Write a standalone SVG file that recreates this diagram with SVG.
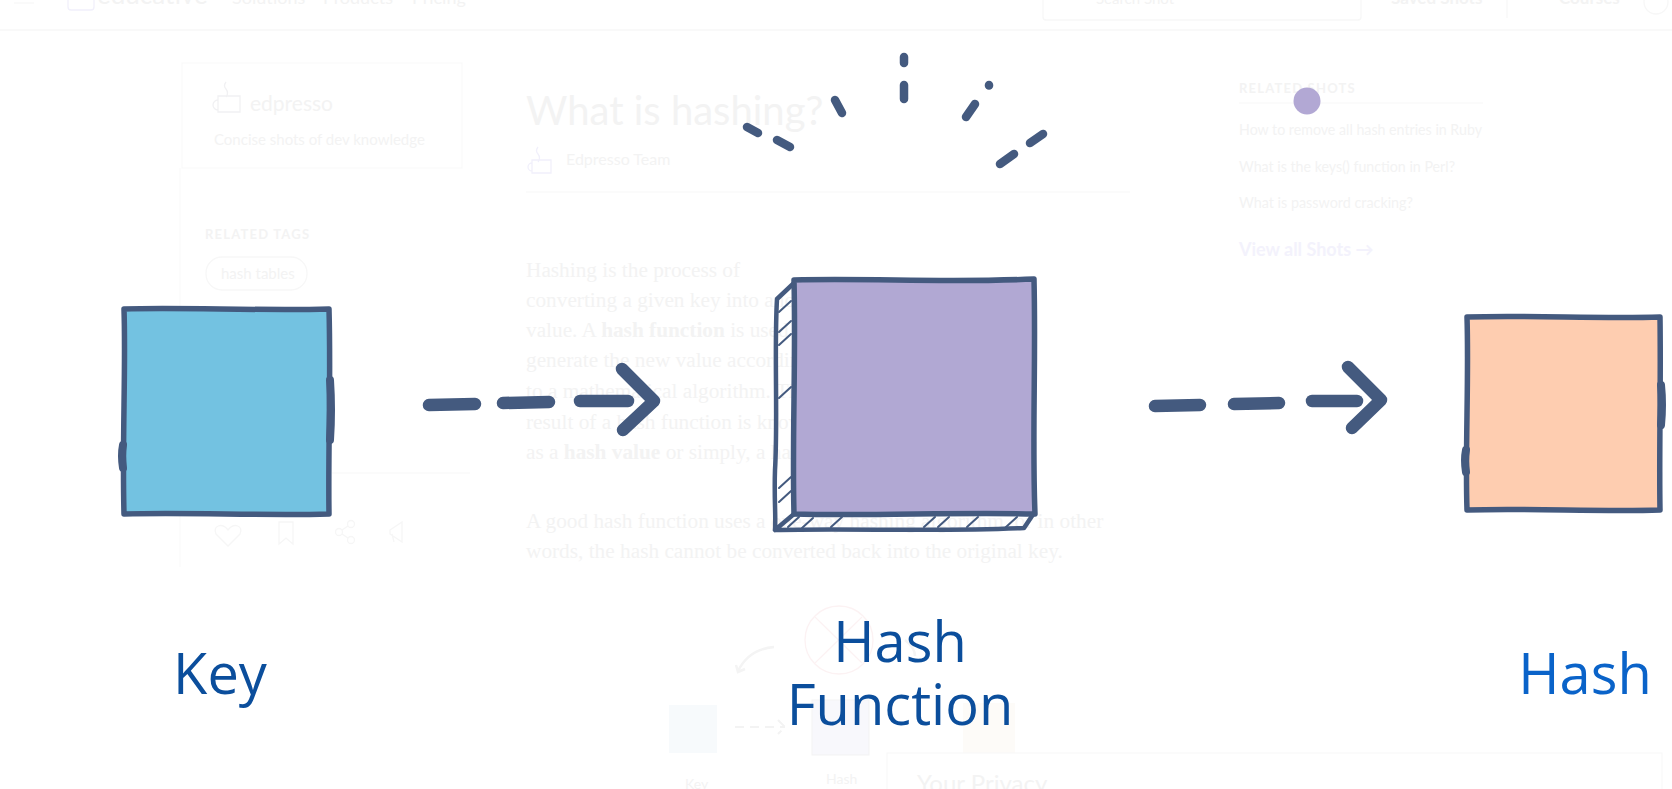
<svg xmlns="http://www.w3.org/2000/svg" width="1672" height="789" viewBox="0 0 1672 789">
<defs>
<style>
.bgt{font-family:"Lato","Open Sans",sans-serif;fill:#f3f3f3}
.bgs{font-family:"Liberation Serif",serif;fill:#f3f3f3;font-size:21.3px}
.bgl{fill:none;stroke:#f7f7f7;stroke-width:1.3}
.edge{stroke:#445a7f;stroke-width:5.5;stroke-linejoin:round;stroke-linecap:round}
.open{fill:none}
.bump{fill:none;stroke:#445a7f;stroke-width:8;stroke-linecap:round}
.con{fill:none;stroke:#445a7f;stroke-width:12.5;stroke-linecap:round;stroke-linejoin:round}
.ray{fill:none;stroke:#445a7f;stroke-width:8.5;stroke-linecap:round}
.hatch{fill:none;stroke:#445a7f;stroke-width:2;stroke-linecap:round}
.lbl{font-family:"Open Sans","Liberation Sans",sans-serif;font-size:56px;text-anchor:middle}
</style>
</defs>
<rect x="0" y="0" width="1672" height="789" fill="#ffffff"/>

<!-- faded web page in the background -->
<g id="background">
  <line class="bgl" x1="0" y1="30" x2="1672" y2="30"/>
  <line class="bgl" x1="14" y1="3" x2="34" y2="3"/>
  <rect class="bgl" x="68" y="-12" width="26" height="22" rx="3" style="stroke:#f1f0fb"/>
  <text class="bgt" x="97" y="4" font-size="26">educative</text>
  <text class="bgt" x="232" y="4" font-size="18">Solutions</text>
  <text class="bgt" x="323" y="4" font-size="18">Products</text>
  <text class="bgt" x="412" y="4" font-size="18">Pricing</text>
  <rect class="bgl" x="1043" y="-10" width="318" height="30" rx="3"/>
  <text class="bgt" x="1096" y="4" font-size="15">Search Shot</text>
  <text class="bgt" x="1391" y="4" font-size="17" font-weight="bold">Saved Shots</text>
  <line class="bgl" x1="1507" y1="0" x2="1507" y2="18"/>
  <text class="bgt" x="1559" y="4" font-size="17" font-weight="bold">Courses</text>
  <circle class="bgl" cx="1656" cy="2" r="12"/>

  <rect class="bgl" x="182" y="63" width="280" height="105" style="stroke:#fafafa"/>
  <line class="bgl" x1="180" y1="168" x2="180" y2="567" style="stroke:#fafafa"/>
  <line class="bgl" x1="332" y1="473" x2="470" y2="473" style="stroke:#fafafa"/>
  <path class="bgl" d="M218,96 h22 v16 h-22 z M218,100 a5,5 0 0 0 0,10 M226,82 q-3,4 0,7 q3,4 0,8" style="stroke:#f1f1f3"/>
  <text class="bgt" x="250" y="111" font-size="21">edpresso</text>
  <text class="bgt" x="214" y="145" font-size="15">Concise shots of dev knowledge</text>
  <text class="bgt" x="205" y="239" font-size="13" font-weight="bold" letter-spacing="1.2">RELATED TAGS</text>
  <rect class="bgl" x="206" y="257" width="101" height="33" rx="16"/>
  <text class="bgt" x="221" y="279" font-size="15">hash tables</text>

  <text class="bgt" x="526" y="125" font-size="40">What is hashing?</text>
  <path class="bgl" d="M532,160 h19 v13 h-19 z M532,163 a4,4 0 0 0 0,8 M538,147 q-3,4 0,7 q3,4 0,8" style="stroke:#f1f0fb"/>
  <text class="bgt" x="566" y="165" font-size="16">Edpresso Team</text>
  <line class="bgl" x1="526" y1="192" x2="1130" y2="192" style="stroke:#fafafa"/>

  <text class="bgs" x="526" y="277">Hashing is the process of</text>
  <text class="bgs" x="526" y="307">converting a given key into another</text>
  <text class="bgs" x="526" y="337">value. A <tspan font-weight="bold">hash function</tspan> is used to</text>
  <text class="bgs" x="526" y="367">generate the new value according</text>
  <text class="bgs" x="526" y="398">to a mathematical algorithm. The</text>
  <text class="bgs" x="526" y="429">result of a hash function is known</text>
  <text class="bgs" x="526" y="459">as a <tspan font-weight="bold">hash value</tspan> or simply, a hash.</text>
  <text class="bgs" x="526" y="528">A good hash function uses a one-way hashing algorithm, or in other</text>
  <text class="bgs" x="526" y="558">words, the hash cannot be converted back into the original key.</text>

  <text class="bgt" x="1239" y="93" font-size="13" font-weight="bold" letter-spacing="1.2">RELATED SHOTS</text>
  <line class="bgl" x1="1239" y1="103" x2="1483" y2="103" style="stroke:#fafafa"/>
  <text class="bgt" x="1239" y="135" font-size="15" textLength="243" lengthAdjust="spacingAndGlyphs">How to remove all hash entries in Ruby</text>
  <text class="bgt" x="1239" y="172" font-size="15" textLength="216" lengthAdjust="spacingAndGlyphs">What is the keys() function in Perl?</text>
  <text class="bgt" x="1239" y="208" font-size="15" textLength="174" lengthAdjust="spacingAndGlyphs">What is password cracking?</text>
  <text x="1239" y="256" font-family="Lato,'Open Sans',sans-serif" font-size="18" font-weight="bold" fill="#f3f2fc">View all Shots →</text>

  <g fill="none" stroke="#f6f6f6" stroke-width="1.3">
    <path d="M228,530 c-6,-8 -16,-4 -12,4 l12,12 l12,-12 c4,-8 -6,-12 -12,-4 z"/>
    <path d="M279,522 v22 l7,-6 l7,6 v-22 z"/>
    <circle cx="351" cy="524" r="3.5"/><circle cx="351" cy="540" r="3.5"/><circle cx="339" cy="532" r="3.5"/>
    <path d="M348,526 l-6,4 M342,534 l6,4"/>
    <path d="M390,530 l12,-8 v20 l-12,-8 z M392,534 l2,8"/>
  </g>

  <circle cx="839" cy="640" r="34" fill="none" stroke="#fcf2f3" stroke-width="1.3"/>
  <path d="M815,617 L862,663 M862,617 L815,663" stroke="#fcf2f3" stroke-width="1.1"/>
  <path d="M774,647 q-25,2 -36,24 M736,665 l2,7 l7,-3" fill="none" stroke="#f4f4f4" stroke-width="2.5"/>
  <path d="M905,640 q10,8 10,16" fill="none" stroke="#f4f4f4" stroke-width="2.5"/>
  <rect x="669" y="705" width="48" height="48" fill="#f7fafc"/>
  <path d="M735,727 h50 M778,720 l7,7 l-7,7" fill="none" stroke="#f3f3f3" stroke-width="2" stroke-dasharray="9,6"/>
  <rect x="812" y="700" width="57" height="55" fill="#f8f8fc" stroke="#f3f3f3"/>
  <rect x="963" y="703" width="52" height="50" fill="#fdfbf8"/>
  <rect x="887" y="753" width="775" height="50" fill="#ffffff" stroke="#f7f7f7"/>
  <text class="bgt" x="685" y="789" font-size="14">Key</text>
  <text class="bgt" x="826" y="784" font-size="14">Hash</text>
  <text class="bgt" x="917" y="792" font-size="24">Your Privacy</text>
</g>

<!-- connectors -->
<g id="connectors">
  <g id="edge-key-hashfunction">
    <path class="con" d="M429,405 L475,404"/>
    <path class="con" d="M503,403 L549,402"/>
    <path class="con" d="M580,401 L628,401"/>
    <path class="con" d="M622,369 L654,401 L623,430"/>
  </g>
  <g id="edge-hashfunction-hash">
    <path class="con" d="M1155,406 L1200,405"/>
    <path class="con" d="M1234,404 L1279,403"/>
    <path class="con" d="M1312,401 L1357,401"/>
    <path class="con" d="M1348,367 L1381,400 L1352,428"/>
  </g>
</g>

<!-- Key node -->
<g id="node-key">
  <path d="M124,309 C180,307 260,311 329,309 C331,380 328,450 329,514 C260,516 190,512 124,514 C122,440 126,370 124,309 Z" style="fill:#73c2e1" class="edge"/>
  <path class="bump" d="M330,380 Q332,410 330,440"/>
  <path class="bump" d="M123,445 Q121,455 123,468"/>
</g>

<!-- Hash Function node -->
<g id="node-hashfunction">
  <g id="sparks">
    <line class="ray" x1="747" y1="127" x2="758" y2="133"/>
    <line class="ray" x1="777" y1="140" x2="790" y2="147"/>
    <line class="ray" x1="835" y1="100" x2="842" y2="113"/>
    <line class="ray" x1="904" y1="57" x2="904" y2="63"/>
    <line class="ray" x1="904" y1="85" x2="904" y2="99"/>
    <line class="ray" x1="989" y1="85" x2="989" y2="85.5"/>
    <line class="ray" x1="975" y1="104" x2="966" y2="117"/>
    <line class="ray" x1="1043" y1="134" x2="1030" y2="143"/>
    <line class="ray" x1="1014" y1="154" x2="1000" y2="164"/>
  </g>
  <path class="edge open" stroke-width="4" d="M794,283 L777,299 C774,350 778,420 775,470 C774,500 776,515 775,530 C850,528 940,532 1024,528 L1034,513 M775,530 L794,514" style="stroke-width:4.5"/>
  <g class="hatch">
    <path d="M779,312 L791,301"/>
    <path d="M779,332 L791,321"/>
    <path d="M779,345 L791,334"/>
    <path d="M779,398 L791,387"/>
    <path d="M779,488 L791,477"/>
    <path d="M779,502 L791,491"/>
    <path d="M788,527 L799,517"/>
    <path d="M802,528 L813,518"/>
    <path d="M831,527 L842,517"/>
    <path d="M924,527 L935,517"/>
    <path d="M938,527 L949,517"/>
    <path d="M967,527 L978,517"/>
    <path d="M1006,527 L1017,517"/>
  </g>
  <path d="M794,280 C870,278 950,283 1034,279 C1036,360 1032,440 1035,514 C960,512 870,516 794,514 C792,440 796,360 794,280 Z" style="fill:#b1a8d3" class="edge"/>
</g>

<!-- Hash node -->
<g id="node-hash">
  <path d="M1467,317 C1530,315 1600,319 1660,317 C1661,390 1659,450 1660,510 C1600,512 1530,508 1467,510 C1465,450 1469,380 1467,317 Z" style="fill:#fecdb0" class="edge"/>
  <path class="bump" d="M1661,385 Q1663,405 1661,425"/>
  <path class="bump" d="M1466,450 Q1464,460 1466,472"/>
</g>

<circle id="dot" cx="1307" cy="101" r="13.5" fill="#b2a8d4"/>

<!-- labels -->
<g id="labels">
  <text class="lbl" x="220" y="694" fill="#0b4e9c">Key</text>
  <text class="lbl" x="900" y="662" fill="#0b4e9c">Hash</text>
  <text class="lbl" x="900" y="725" fill="#0b4e9c">Function</text>
  <text class="lbl" x="1585" y="694" fill="#0a63c9">Hash</text>
</g>
</svg>
